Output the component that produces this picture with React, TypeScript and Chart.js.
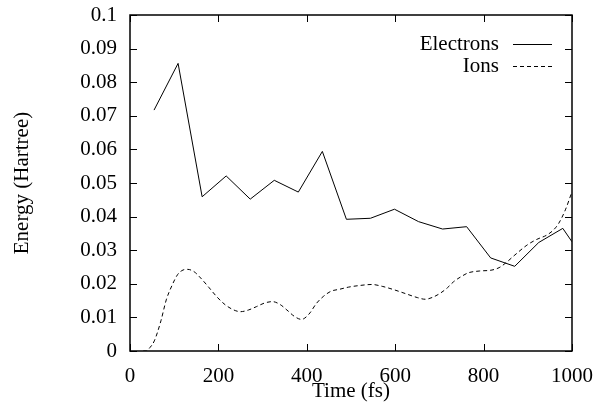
import React, { useEffect, useRef } from "react";
import { Chart, registerables } from "chart.js";

Chart.register(...registerables);

const electronTimes = [54.4, 108.8, 163.2, 217.6, 272, 326.4, 380.8, 435.2, 489.6, 544, 598.4, 652.8, 707.2, 761.6, 816, 870.4, 924.8, 979.2, 1000];
const electronEnergy = [0.0717, 0.0856, 0.0459, 0.0521, 0.0452, 0.0508, 0.0473, 0.0594, 0.0392, 0.0395, 0.0422, 0.0385, 0.0363, 0.037, 0.0277, 0.0252, 0.0323, 0.0365, 0.0325];

const ionTimes = [30, 37, 45, 55, 70, 82, 95, 108, 120, 130, 145, 160, 178, 196, 215, 235, 250, 268, 286, 305, 322, 340, 355, 372, 388, 405, 422, 438, 455, 475, 494, 520, 547, 572, 598, 625, 650, 668, 685, 702, 718, 732, 750, 766, 790, 819, 835, 850, 871, 898, 920, 943, 958, 970, 985, 1000];
const ionEnergy = [0, 0, 0.001, 0.003, 0.009, 0.0152, 0.0195, 0.0228, 0.0241, 0.0243, 0.0236, 0.0217, 0.019, 0.0162, 0.0138, 0.0122, 0.0117, 0.0122, 0.0132, 0.0143, 0.0147, 0.0138, 0.0122, 0.0103, 0.0094, 0.011, 0.0142, 0.0163, 0.0178, 0.0184, 0.019, 0.0195, 0.0198, 0.0192, 0.0182, 0.017, 0.0159, 0.0154, 0.016, 0.0172, 0.0188, 0.0206, 0.0222, 0.0233, 0.0238, 0.0241, 0.0248, 0.0262, 0.0286, 0.0315, 0.0332, 0.0345, 0.036, 0.038, 0.042, 0.0474];

const seriesLabels = ["Electrons", "Ions"];
const xTitle = "Time (fs)";
const yTitle = "Energy (Hartree)";

const FONT = "'Liberation Serif', 'Times New Roman', serif";
const FS = 21;

const frameTicks = {
  id: "frameTicks",
  afterDatasetsDraw(chart: any) {
    const { ctx, chartArea } = chart;
    const { left, right, top, bottom } = chartArea;
    const xs = chart.scales.x;
    const ys = chart.scales.y;
    const L = 7;
    ctx.save();
    ctx.strokeStyle = "#000";
    ctx.lineWidth = 1;
    ctx.beginPath();
    xs.ticks.forEach((t: any) => {
      const px = Math.round(xs.getPixelForValue(t.value)) + 0.5;
      ctx.moveTo(px, bottom);
      ctx.lineTo(px, bottom - L);
      ctx.moveTo(px, top);
      ctx.lineTo(px, top + L);
    });
    ys.ticks.forEach((t: any) => {
      const py = Math.round(ys.getPixelForValue(t.value)) + 0.5;
      ctx.moveTo(left, py);
      ctx.lineTo(left + L, py);
      ctx.moveTo(right, py);
      ctx.lineTo(right - L, py);
    });
    ctx.stroke();
    ctx.lineWidth = 1.5;
    ctx.strokeRect(left, top, right - left, bottom - top);

    // legend
    ctx.font = `${FS}px ${FONT}`;
    ctx.fillStyle = "#000";
    ctx.textAlign = "right";
    ctx.textBaseline = "middle";
    chart.data.datasets.forEach((ds: any, i: number) => {
      const y = top + 29 + i * 22;
      ctx.fillText(ds.label, right - 73, y);
      ctx.beginPath();
      ctx.lineWidth = 1;
      ctx.setLineDash(ds.borderDash || []);
      ctx.moveTo(right - 59, Math.round(y) + 0.5);
      ctx.lineTo(right - 20, Math.round(y) + 0.5);
      ctx.stroke();
      ctx.setLineDash([]);
    });
    ctx.restore();
  },
};

export default function App() {
  const ref = useRef<HTMLCanvasElement>(null);
  useEffect(() => {
    if (!ref.current) return;
    const chart = new Chart(ref.current, {
      type: "line",
      data: {
        datasets: [
          {
            label: seriesLabels[0],
            data: electronTimes.map((t, i) => ({ x: t, y: electronEnergy[i] })),
            borderColor: "#000",
            borderWidth: 1,
            pointRadius: 0,
            tension: 0,
            fill: false,
          },
          {
            label: seriesLabels[1],
            data: ionTimes.map((t, i) => ({ x: t, y: ionEnergy[i] })),
            borderColor: "#000",
            borderWidth: 1,
            borderDash: [4, 3],
            pointRadius: 0,
            cubicInterpolationMode: "monotone",
            fill: false,
          },
        ],
      },
      options: {
        animation: false,
        responsive: false,
        devicePixelRatio: 1,
        clip: true,
        layout: { padding: { left: 0, top: 15, right: 38, bottom: 0 } },
        plugins: { legend: { display: false }, tooltip: { enabled: false } },
        scales: {
          x: {
            type: "linear",
            min: 0,
            max: 1000,
            grid: { display: false, drawTicks: false },
            border: { display: false },
            ticks: {
              stepSize: 200,
              color: "#000",
              padding: 13,
              maxRotation: 0,
              font: { family: FONT, size: FS },
              callback: (v: any) => String(v),
            },
            title: {
              display: true,
              text: xTitle,
              color: "#000",
              font: { family: FONT, size: FS },
              padding: { top: 0, bottom: 5 },
            },
            afterFit: (s: any) => {
              s.height = 58;
              s.paddingLeft = 0;
              s.paddingRight = 0;
            },
          },
          y: {
            type: "linear",
            min: 0,
            max: 0.1,
            grid: { display: false, drawTicks: false },
            border: { display: false },
            ticks: {
              stepSize: 0.01,
              color: "#000",
              padding: 13,
              font: { family: FONT, size: FS },
              callback: (v: any) => String(parseFloat(Number(v).toFixed(2))),
            },
            title: {
              display: true,
              text: yTitle,
              color: "#000",
              font: { family: FONT, size: FS },
              padding: { top: 10, bottom: 0 },
            },
            afterFit: (s: any) => {
              s.width = 130;
              s.paddingTop = 0;
              s.paddingBottom = 0;
            },
          },
        },
      },
      plugins: [frameTicks],
    });
    return () => chart.destroy();
  }, []);
  return (
    <div style={{ position: "fixed", left: 0, top: 0, width: 610, height: 409, background: "#fff" }}>
      <canvas ref={ref} width={610} height={409} />
    </div>
  );
}
